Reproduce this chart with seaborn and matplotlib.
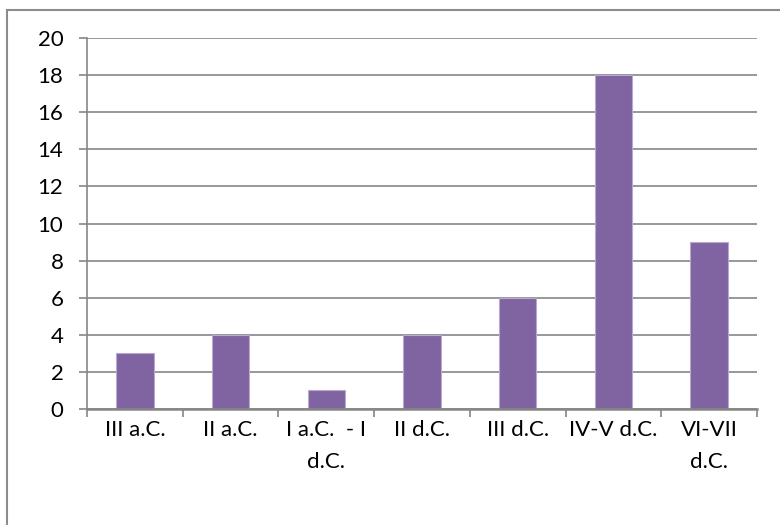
import matplotlib
matplotlib.use("Agg")
import matplotlib.pyplot as plt
import seaborn as sns
import pandas as pd
from matplotlib.patches import Rectangle

periods = ["III a.C.", "II a.C.", "I a.C.  - I\nd.C.", "II d.C.", "III d.C.", "IV-V d.C.", "VI-VII\nd.C."]
counts = [3, 4, 1, 4, 6, 18, 9]
y_ticks = [0, 2, 4, 6, 8, 10, 12, 14, 16, 18, 20]

sns.set_theme(style="white")
plt.rcParams["font.family"] = ["Lato", "DejaVu Sans"]

df = pd.DataFrame({"period": periods, "count": counts})

fig = plt.figure(figsize=(7.8, 5.25), dpi=100)
ax = fig.add_axes([87 / 780, 1 - 409 / 525, (757 - 87) / 780, (409 - 38) / 525])

grid_col = "#868686"
sns.barplot(data=df, x="period", y="count", color="#8064A2", saturation=1,
            width=0.39, edgecolor="#B9A9D0", linewidth=0.8, ax=ax, zorder=3)

ax.set_ylim(0, 20)
ax.set_xlim(-0.5, len(periods) - 0.5)
ax.set_yticks(y_ticks)
ax.set_yticklabels([str(v) for v in y_ticks], fontsize=16, color="black")
ax.set_xticks(range(len(periods)))
ax.set_xticklabels(periods, fontsize=16, color="black", linespacing=1.75, va="top")
ax.set_xlabel("")
ax.set_ylabel("")

ax.yaxis.grid(True, color=grid_col, linewidth=1.2, zorder=0)
ax.set_axisbelow(True)

for side in ["top", "right"]:
    ax.spines[side].set_visible(False)
ax.spines["left"].set_color(grid_col)
ax.spines["left"].set_linewidth(1.2)
ax.spines["bottom"].set_color(grid_col)
ax.spines["bottom"].set_linewidth(1.8)
ax.spines["bottom"].set_zorder(4)

# y ticks outward on the left
ax.tick_params(axis="y", which="major", direction="out", length=6, width=1.2,
               color=grid_col, left=True, pad=11)
# category boundary ticks on the x axis
ax.set_xticks([i - 0.5 for i in range(len(periods) + 1)], minor=True)
ax.tick_params(axis="x", which="major", length=0, pad=8)
ax.tick_params(axis="x", which="minor", direction="out", length=6, width=1.2,
               color=grid_col, bottom=True)

# chart frame
fig.patches.append(Rectangle((7 / 780, -0.1), 1.2, 1 - 10 / 525 + 0.1,
                             transform=fig.transFigure, fill=False,
                             edgecolor="#8C8C8C", linewidth=1.5))

fig.savefig("out.png", dpi=100)
